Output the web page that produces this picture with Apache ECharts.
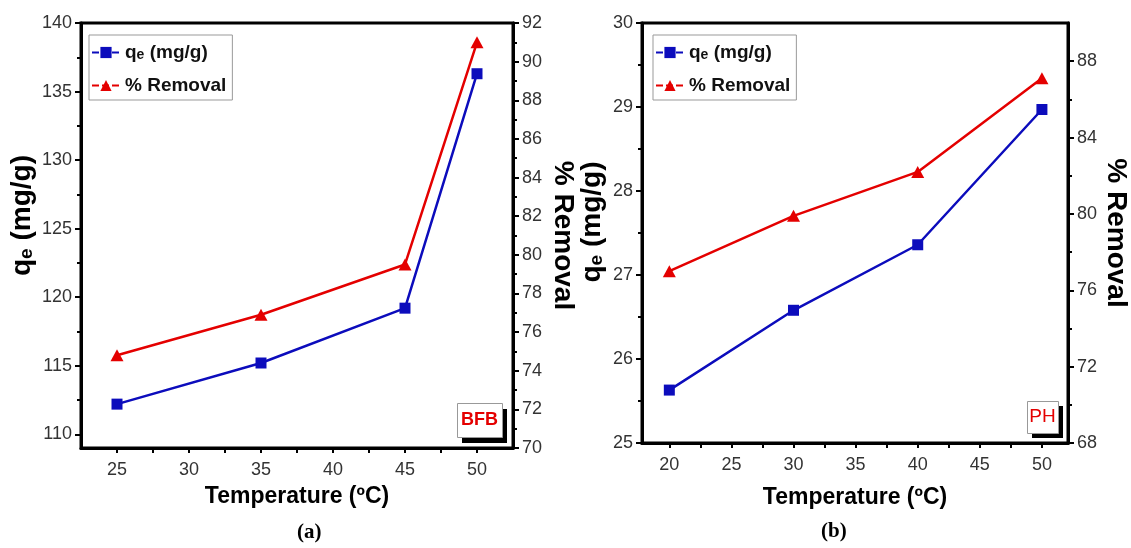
<!DOCTYPE html>
<html>
<head>
<meta charset="utf-8">
<script src="https://cdn.jsdelivr.net/npm/echarts@6/dist/echarts.min.js"></script>
<style>
html,body{margin:0;padding:0;background:#fff;}
#c{width:1131px;height:548px;}
</style>
</head>
<body>
<div id="c"></div>
<script>
// ---- data (panel a: BFB) ----
const tempA = [25, 35, 45, 50];
const qeA = [112.2, 115.2, 119.2, 136.3];
const remA = [74.8, 76.9, 79.5, 91.0];
// ---- data (panel b: PH) ----
const tempB = [20, 30, 40, 50];
const qeB = [25.63, 26.58, 27.36, 28.97];
const remB = [77.0, 79.9, 82.2, 87.1];

// ---- tick labels ----
const xLabelsA = [25, 30, 35, 40, 45, 50];
const xTicksA = [25, 27.5, 30, 32.5, 35, 37.5, 40, 42.5, 45, 47.5, 50];
const yLeftLabelsA = [110, 115, 120, 125, 130, 135, 140];
const yLeftMinorA = [112.5, 117.5, 122.5, 127.5, 132.5, 137.5];
const xLabelsB = [20, 25, 30, 35, 40, 45, 50];
const xTicksB = [20, 22.5, 25, 27.5, 30, 32.5, 35, 37.5, 40, 42.5, 45, 47.5, 50];
const yRightLabelsB = [68, 72, 76, 80, 84, 88];
const yRightMinorB = [70, 74, 78, 82, 86];

const BLUE = '#0c0cbc';
const RED = '#e40000';
const SANS = "'Liberation Sans',Arial,sans-serif";

const tickLabel = {fontSize: 18, color: '#333', fontFamily: SANS};
const axisLine = {show: true, lineStyle: {color: '#000', width: 3}};
const tickStyle = {color: '#000', width: 2};

const xTitleStyle = {fontSize: 23, fontWeight: 'bold', color: '#000', fontFamily: SANS};
const yTitleStyle = {fontSize: 28, fontWeight: 'bold', color: '#000', fontFamily: SANS};
const qeName = 'q{sub|e} (mg/g)';
const qeRich = {sub: {fontSize: 19, fontWeight: 'bold', color: '#000', fontFamily: SANS, verticalAlign: 'bottom', lineHeight: 15}};

function pairs(xs, ys) { return xs.map((x, i) => [x, ys[i]]); }

const chart = echarts.init(document.getElementById('c'), null, {renderer: 'canvas'});

function legendFor(left, names) {
  return {
    left: left, top: 35, orient: 'vertical',
    data: names,
    itemWidth: 28, itemHeight: 14, itemGap: 14,
    padding: [8, 6, 5, 2],
    borderColor: '#999', borderWidth: 1,
    lineStyle: {type: [7, 3], width: 2},
    formatter: n => n.indexOf('qe') === 0 ? qeName : '% Removal',
    textStyle: {fontSize: 19, fontWeight: 'bold', color: '#111', fontFamily: SANS,
      rich: {sub: {fontSize: 14, fontWeight: 'bold', color: '#111', fontFamily: SANS, verticalAlign: 'bottom', lineHeight: 12}}}
  };
}

const option = {
  backgroundColor: '#fff',
  animation: false,
  grid: [
    {left: 81, top: 23, width: 432, height: 425, show: true, borderColor: '#000', borderWidth: 3, containLabel: false},
    {left: 642, top: 23, width: 431, height: 420, show: true, borderColor: '#000', borderWidth: 3, containLabel: false}
  ],
  legend: [legendFor(89, ['qeA', 'remA']), legendFor(653, ['qeB', 'remB'])],
  xAxis: [
    {gridIndex: 0, type: 'value', min: 22.5, max: 52.5,
      axisLine: axisLine,
      axisTick: {show: true, customValues: xTicksA, length: 5, lineStyle: tickStyle},
      axisLabel: Object.assign({customValues: xLabelsA, margin: 13}, tickLabel),
      splitLine: {show: false},
      name: 'Temperature (ºC)', nameLocation: 'middle', nameGap: 37, nameTextStyle: xTitleStyle},
    {gridIndex: 1, type: 'value', min: 17.8, max: 52.1,
      axisLine: axisLine,
      axisTick: {show: true, customValues: xTicksB, length: 5, lineStyle: tickStyle},
      axisLabel: Object.assign({customValues: xLabelsB, margin: 13}, tickLabel),
      splitLine: {show: false},
      name: 'Temperature (ºC)', nameLocation: 'middle', nameGap: 43, nameTextStyle: xTitleStyle}
  ],
  yAxis: [
    // 0: panel a left (qe)
    {gridIndex: 0, type: 'value', position: 'left', min: 109, max: 140,
      axisLine: axisLine,
      axisTick: {show: true, customValues: yLeftLabelsA, length: 6, lineStyle: tickStyle},
      axisLabel: Object.assign({customValues: yLeftLabelsA, margin: 9}, tickLabel),
      splitLine: {show: false},
      name: qeName, nameLocation: 'middle', nameRotate: 90, nameGap: 45,
      nameTextStyle: Object.assign({rich: qeRich, padding: [0, 0, 0, 40]}, yTitleStyle)},
    // 1: panel a right (% removal)
    {gridIndex: 0, type: 'value', position: 'right', min: 70, max: 92, interval: 2,
      axisLine: axisLine,
      axisTick: {show: true, length: 6, lineStyle: tickStyle},
      minorTick: {show: true, splitNumber: 2, length: 4, lineStyle: tickStyle},
      axisLabel: Object.assign({margin: 9}, tickLabel),
      splitLine: {show: false},
      name: '% Removal', nameLocation: 'middle', nameRotate: -90, nameGap: 36, nameTextStyle: yTitleStyle},
    // 2: panel a left minor ticks
    {gridIndex: 0, type: 'value', position: 'left', min: 109, max: 140,
      axisLine: {show: false},
      axisTick: {show: true, customValues: yLeftMinorA, length: 4, lineStyle: tickStyle},
      axisLabel: {show: false}, splitLine: {show: false}},
    // 3: panel b left (qe)
    {gridIndex: 1, type: 'value', position: 'left', min: 25, max: 30, interval: 1,
      axisLine: axisLine,
      axisTick: {show: true, length: 6, lineStyle: tickStyle},
      minorTick: {show: true, splitNumber: 2, length: 4, lineStyle: tickStyle},
      axisLabel: Object.assign({margin: 9}, tickLabel),
      splitLine: {show: false},
      name: qeName, nameLocation: 'middle', nameRotate: 90, nameGap: 36,
      nameTextStyle: Object.assign({rich: qeRich, padding: [0, 0, 0, 22]}, yTitleStyle)},
    // 4: panel b right (% removal)
    {gridIndex: 1, type: 'value', position: 'right', min: 68, max: 90,
      axisLine: axisLine,
      axisTick: {show: true, customValues: yRightLabelsB, length: 6, lineStyle: tickStyle},
      axisLabel: Object.assign({customValues: yRightLabelsB, margin: 9}, tickLabel),
      splitLine: {show: false},
      name: '% Removal', nameLocation: 'middle', nameRotate: -90, nameGap: 34, nameTextStyle: yTitleStyle},
    // 5: panel b right minor ticks
    {gridIndex: 1, type: 'value', position: 'right', min: 68, max: 90,
      axisLine: {show: false},
      axisTick: {show: true, customValues: yRightMinorB, length: 4, lineStyle: tickStyle},
      axisLabel: {show: false}, splitLine: {show: false}}
  ],
  series: [
    {name: 'qeA', type: 'line', xAxisIndex: 0, yAxisIndex: 0, data: pairs(tempA, qeA),
      symbol: 'rect', symbolSize: 11, lineStyle: {color: BLUE, width: 2.5}, itemStyle: {color: BLUE}, z: 3},
    {name: 'remA', type: 'line', xAxisIndex: 0, yAxisIndex: 1, data: pairs(tempA, remA),
      symbol: 'triangle', symbolSize: [13, 12], lineStyle: {color: RED, width: 2.5}, itemStyle: {color: RED}, z: 3},
    {name: 'qeB', type: 'line', xAxisIndex: 1, yAxisIndex: 3, data: pairs(tempB, qeB),
      symbol: 'rect', symbolSize: 11, lineStyle: {color: BLUE, width: 2.5}, itemStyle: {color: BLUE}, z: 3},
    {name: 'remB', type: 'line', xAxisIndex: 1, yAxisIndex: 4, data: pairs(tempB, remB),
      symbol: 'triangle', symbolSize: [13, 12], lineStyle: {color: RED, width: 2.5}, itemStyle: {color: RED}, z: 3}
  ],
  graphic: [
    // BFB tag
    {type: 'rect', left: 462, top: 409, shape: {width: 45, height: 34}, style: {fill: '#000'}, z: 10},
    {type: 'rect', left: 457, top: 403, shape: {width: 45, height: 34}, style: {fill: '#fff', stroke: '#999', lineWidth: 1}, z: 11},
    {type: 'text', x: 479.5, y: 420, style: {text: 'BFB', fill: RED, align: 'center', verticalAlign: 'middle', font: "bold 18px 'Liberation Sans',Arial,sans-serif"}, z: 12},
    // PH tag
    {type: 'rect', left: 1032, top: 406, shape: {width: 31, height: 32}, style: {fill: '#000'}, z: 10},
    {type: 'rect', left: 1027, top: 401, shape: {width: 31, height: 32}, style: {fill: '#fff', stroke: '#999', lineWidth: 1}, z: 11},
    {type: 'text', x: 1042.5, y: 417, style: {text: 'PH', fill: RED, align: 'center', verticalAlign: 'middle', font: "19px 'Liberation Sans',Arial,sans-serif"}, z: 12},
    // panel captions
    {type: 'text', left: 297, top: 522, style: {text: '(a)', fill: '#000', font: "bold 21px 'Liberation Serif','Times New Roman',serif"}},
    {type: 'text', left: 821, top: 521, style: {text: '(b)', fill: '#000', font: "bold 21px 'Liberation Serif','Times New Roman',serif"}}
  ]
};
chart.setOption(option);
</script>
</body>
</html>
